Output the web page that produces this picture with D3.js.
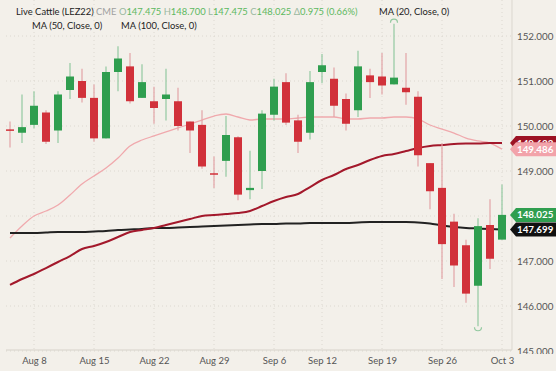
<!DOCTYPE html>
<html>
<head>
<meta charset="utf-8">
<script src="https://cdnjs.cloudflare.com/ajax/libs/d3/7.8.5/d3.min.js"></script>
<style>
  body { margin: 0; background: #f3f0ea; }
  svg { display: block; font-family: Lato, "Open Sans", sans-serif; }
  .tick text { fill: #555; }
</style>
</head>
<body>
<script>
// trading days shown on the chart
var dates = ["2022-08-04","2022-08-05","2022-08-08","2022-08-09","2022-08-10","2022-08-11","2022-08-12",
  "2022-08-15","2022-08-16","2022-08-17","2022-08-18","2022-08-19","2022-08-22","2022-08-23","2022-08-24",
  "2022-08-25","2022-08-26","2022-08-29","2022-08-30","2022-08-31","2022-09-01","2022-09-02","2022-09-06",
  "2022-09-07","2022-09-08","2022-09-09","2022-09-12","2022-09-13","2022-09-14","2022-09-15","2022-09-16",
  "2022-09-19","2022-09-20","2022-09-21","2022-09-22","2022-09-23","2022-09-26","2022-09-27","2022-09-28",
  "2022-09-29","2022-09-30","2022-10-03"];

var opens  = [149.925,149.850,150.025,150.300,149.900,150.800,151.000,150.625,149.725,151.200,151.325,150.625,
  150.550,150.600,150.550,150.100,150.025,148.950,149.225,149.750,148.575,149.000,150.250,150.975,150.125,149.850,
  151.200,151.050,150.600,150.350,151.125,151.100,150.925,150.850,150.650,149.175,148.625,147.875,147.350,146.450,
  147.800,147.475];
var highs  = [150.100,150.700,150.775,150.350,150.775,151.400,151.275,150.925,151.325,151.775,151.625,151.375,
  150.875,151.275,150.850,150.100,150.350,149.325,150.225,149.775,149.450,150.350,151.050,151.175,150.250,151.225,
  151.600,151.300,150.725,151.675,151.275,151.625,152.275,151.625,150.775,149.175,149.625,148.050,147.475,147.950,
  148.375,148.700];
var lows   = [149.525,149.625,149.950,149.600,149.625,150.600,150.525,149.650,149.725,150.775,150.500,150.625,
  150.050,150.125,149.900,149.400,149.050,148.625,148.875,148.350,148.375,148.600,150.125,150.025,149.400,149.700,
  150.950,150.200,149.900,150.200,150.625,150.700,150.925,150.475,149.100,148.150,146.600,146.425,146.075,145.550,
  146.825,147.475];
var closes = [149.900,149.975,150.450,149.650,150.700,151.100,150.625,149.725,151.200,151.500,150.550,150.975,
  150.400,150.700,150.000,149.900,149.100,148.925,149.800,148.475,148.625,150.275,150.875,150.075,149.650,150.975,
  151.350,150.450,150.050,151.325,150.975,150.900,151.075,150.750,149.350,148.550,147.375,146.900,146.275,147.775,
  147.050,148.025];

var ma20  = [147.511,147.778,148.000,148.111,148.244,148.467,148.711,148.889,149.067,149.289,149.556,149.689,
  149.778,149.867,149.956,150.044,150.133,150.222,150.267,150.200,150.133,150.156,150.156,150.156,150.178,150.200,
  150.200,150.200,150.156,150.156,150.178,150.178,150.200,150.200,150.156,150.022,149.933,149.844,149.733,149.667,
  149.622,149.486];
var ma50  = [146.467,146.600,146.711,146.844,146.978,147.111,147.267,147.333,147.422,147.533,147.644,147.689,
  147.733,147.800,147.867,147.933,148.000,148.022,148.044,148.067,148.111,148.222,148.333,148.422,148.489,148.644,
  148.800,148.911,149.044,149.133,149.244,149.333,149.378,149.444,149.511,149.556,149.578,149.600,149.611,149.611,
  149.622,149.622];
var ma100 = [147.622,147.622,147.622,147.633,147.644,147.644,147.644,147.656,147.667,147.689,147.700,147.711,
  147.733,147.733,147.744,147.756,147.767,147.778,147.789,147.800,147.811,147.822,147.822,147.833,147.833,147.844,
  147.844,147.844,147.844,147.856,147.867,147.867,147.867,147.867,147.856,147.833,147.789,147.756,147.733,147.722,
  147.711,147.699];

var xLabels = ["2022-08-08","2022-08-15","2022-08-22","2022-08-29","2022-09-06","2022-09-12","2022-09-19","2022-09-26","2022-10-03"];
var yTicks = [145, 146, 147, 148, 149, 150, 151, 152];

var w = 556, h = 371;
var plot = {left: 6, right: 512, top: 0, bottom: 350};

var upColor = "#2f9e4f", downColor = "#d1313a";
var upWick = "#93c9a0", downWick = "#e3a3a6";

var candles = dates.map(function(d, i) {
  return {date: d, o: opens[i], h: highs[i], l: lows[i], c: closes[i]};
});

var svg = d3.select("body")
            .append("svg")
            .attr("width", w)
            .attr("height", h);

svg.append("rect")
   .attr("width", w)
   .attr("height", h)
   .attr("fill", "#f3f0ea");

svg.append("clipPath")
   .attr("id", "axisclip")
   .append("rect")
   .attr("x", plot.right)
   .attr("y", 0)
   .attr("width", w - plot.right)
   .attr("height", 354);

var xScale = d3.scalePoint()
               .domain(dates)
               .range([10, 502]);

var yScale = d3.scaleLinear()
               .domain([145, 152])
               .range([351, 36]);

// gridlines
svg.append("g")
   .selectAll("line")
   .data(yTicks)
   .enter()
   .append("line")
   .attr("x1", plot.left)
   .attr("x2", plot.right)
   .attr("y1", function(d) { return yScale(d); })
   .attr("y2", function(d) { return yScale(d); })
   .style("stroke", "#dcd8d0")
   .style("stroke-dasharray", "1,3");

svg.append("g")
   .selectAll("line")
   .data(xLabels)
   .enter()
   .append("line")
   .attr("x1", function(d) { return xScale(d); })
   .attr("x2", function(d) { return xScale(d); })
   .attr("y1", 0)
   .attr("y2", plot.bottom)
   .style("stroke", "#dcd8d0")
   .style("stroke-dasharray", "1,3");

// frame
svg.append("line")
   .attr("x1", plot.right).attr("x2", plot.right)
   .attr("y1", 0).attr("y2", plot.bottom)
   .style("stroke", "#dbd7cf");

// axes
var parse = d3.timeParse("%Y-%m-%d");
var fmt = d3.timeFormat("%b %-d");

var xAxis = d3.axisBottom(xScale)
              .tickValues(xLabels)
              .tickSize(0)
              .tickPadding(7)
              .tickFormat(function(d) { return fmt(parse(d)); });

svg.append("g")
   .attr("transform", "translate(0," + plot.bottom + ")")
   .call(xAxis)
   .call(function(g) {
     g.select(".domain").remove();
     g.selectAll("text").style("font-size", "9.5px").style("font-family", "Lato, sans-serif").attr("fill", "#666");
   });

svg.append("line")
   .attr("x1", plot.left).attr("x2", plot.right)
   .attr("y1", plot.bottom).attr("y2", plot.bottom)
   .style("stroke", "#d6d2ca");

var yAxis = d3.axisRight(yScale)
              .tickValues(yTicks)
              .tickSize(0)
              .tickPadding(4)
              .tickFormat(d3.format(".3f"));

svg.append("g")
   .attr("clip-path", "url(#axisclip)")
   .append("g")
   .attr("transform", "translate(" + (plot.right + 1) + ",0)")
   .call(yAxis)
   .call(function(g) {
     g.select(".domain").remove();
     g.selectAll("text").style("font-size", "9.8px").style("font-family", "Lato, sans-serif").attr("fill", "#555");
   });

// moving averages
var line = function(vals) {
  return d3.line()
           .x(function(d, i) { return xScale(dates[i]); })
           .y(function(d) { return yScale(d); })
           .curve(d3.curveMonotoneX)(vals);
};

svg.append("path").attr("d", line(ma20))
   .attr("fill", "none").style("stroke", "#f0a9ad").style("stroke-width", 1.3);
svg.append("path").attr("d", line(ma100))
   .attr("fill", "none").style("stroke", "#222").style("stroke-width", 2);
svg.append("path").attr("d", line(ma50))
   .attr("fill", "none").style("stroke", "#a3182b").style("stroke-width", 2);

// candles
var bw = 8;
var cg = svg.append("g").attr("class", "candles");

cg.selectAll("line")
  .data(candles)
  .enter()
  .append("line")
  .attr("x1", function(d) { return xScale(d.date); })
  .attr("x2", function(d) { return xScale(d.date); })
  .attr("y1", function(d) { return yScale(d.h); })
  .attr("y2", function(d) { return yScale(d.l); })
  .style("stroke", function(d) { return d.c >= d.o ? upWick : downWick; })
  .style("stroke-width", 1.2);

cg.selectAll("rect")
  .data(candles)
  .enter()
  .append("rect")
  .attr("x", function(d) { return xScale(d.date) - bw / 2; })
  .attr("y", function(d) { return yScale(Math.max(d.o, d.c)); })
  .attr("width", bw)
  .attr("height", function(d) { return Math.max(1.5, Math.abs(yScale(d.o) - yScale(d.c))); })
  .attr("fill", function(d) { return d.c >= d.o ? upColor : downColor; });

// high / low markers
var hiIdx = d3.maxIndex(highs), loIdx = d3.minIndex(lows);
svg.append("path")
   .attr("d", d3.arc()({innerRadius: 3.5, outerRadius: 3.5, startAngle: -Math.PI / 2, endAngle: Math.PI / 2}))
   .attr("transform", "translate(" + xScale(dates[hiIdx]) + "," + (yScale(highs[hiIdx]) - 1) + ")")
   .attr("fill", "none").style("stroke", upWick).style("stroke-width", 1.2);
svg.append("path")
   .attr("d", d3.arc()({innerRadius: 3.5, outerRadius: 3.5, startAngle: Math.PI / 2, endAngle: Math.PI * 1.5}))
   .attr("transform", "translate(" + xScale(dates[loIdx]) + "," + (yScale(lows[loIdx]) + 1) + ")")
   .attr("fill", "none").style("stroke", upWick).style("stroke-width", 1.2);

// price tags on the right axis
var last = dates.length - 1;
var tags = [
  {v: ma50[last], fill: "#9c1224"},
  {v: ma20[last], fill: "#f2a3aa"},
  {v: ma100[last], fill: "#111"},
  {v: closes[last], fill: "#2f9e4f"}
];

var tg = svg.append("g");
tags.forEach(function(t) {
  var y = yScale(t.v);
  var x0 = plot.right - 2;
  tg.append("path")
    .attr("d", "M" + x0 + "," + y + "L" + (x0 + 6) + "," + (y - 7) + "L" + w + "," + (y - 7) +
               "L" + w + "," + (y + 7) + "L" + (x0 + 6) + "," + (y + 7) + "Z")
    .attr("fill", t.fill);
  tg.append("text")
    .attr("x", x0 + 7)
    .attr("y", y + 3.5)
    .attr("fill", "#fff")
    .style("font-size", "9.8px")
    .style("font-weight", "bold")
    .text(d3.format(".3f")(t.v));
});

// header
var hdr = svg.append("text")
             .attr("x", 16)
             .attr("y", 15)
             .style("font-size", "9.4px");
hdr.append("tspan").attr("fill", "#222").text("Live Cattle (LEZ22) ");
hdr.append("tspan").attr("fill", "#a0a0a0").text("CME  ");
[["O", opens[last]], ["H", highs[last]], ["L", lows[last]], ["C", closes[last]]].forEach(function(p) {
  hdr.append("tspan").attr("fill", "#9ab8a0").text(p[0]);
  hdr.append("tspan").attr("fill", "#5cb860").text(d3.format(".3f")(p[1]) + " ");
});
var chg = closes[last] - closes[last - 1];
hdr.append("tspan").attr("fill", "#9ab8a0").text("Δ");
hdr.append("tspan").attr("fill", "#5cb860")
   .text(d3.format(".3f")(chg) + " (" + d3.format(".2f")(chg / closes[last - 1] * 100) + "%)");

svg.append("text").attr("x", 32).attr("y", 29).style("font-size", "9.4px").attr("fill", "#222")
   .text("MA (50, Close, 0)");
svg.append("text").attr("x", 121).attr("y", 29).style("font-size", "9.4px").attr("fill", "#222")
   .text("MA (100, Close, 0)");
svg.append("text").attr("x", 379).attr("y", 15).style("font-size", "9.4px").attr("fill", "#222")
   .text("MA (20, Close, 0)");
</script>
</body>
</html>
